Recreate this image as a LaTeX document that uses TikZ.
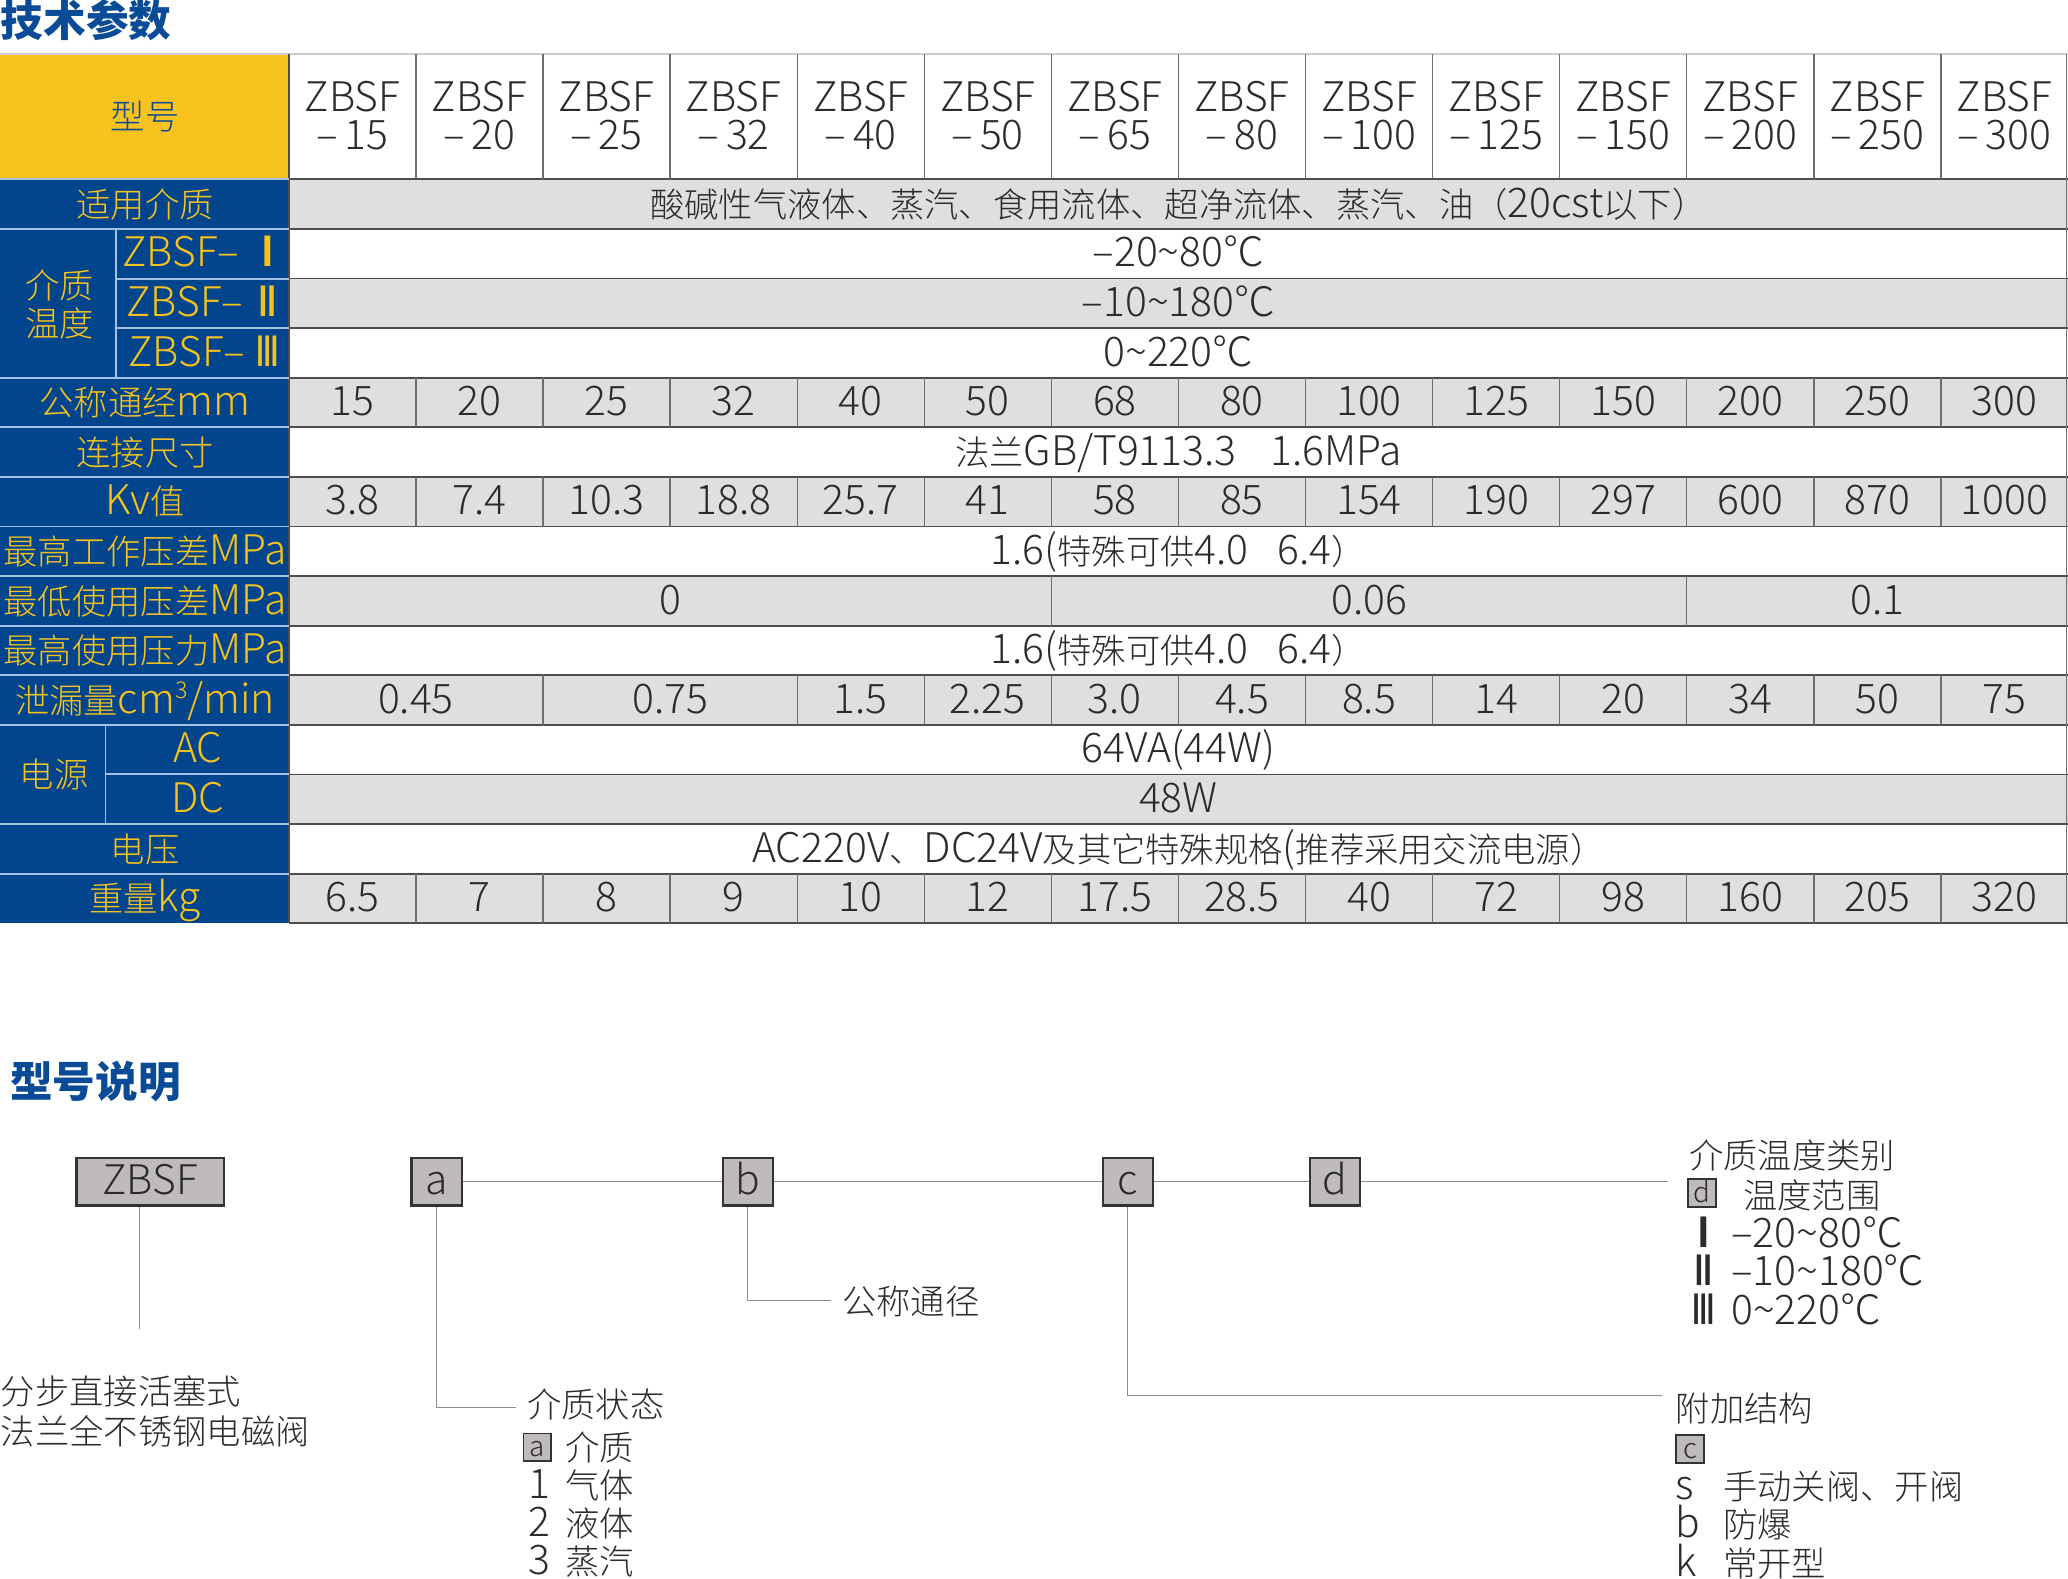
\documentclass[tikz,border=0pt]{standalone}
\usepackage{fontspec}
\usepackage{graphicx}
\IfFontExistsTF{Noto Sans CJK SC Light}
  {\setmainfont{Noto Sans CJK SC Light}}
  {\IfFontExistsTF{Noto Sans CJK SC DemiLight}
    {\setmainfont{Noto Sans CJK SC DemiLight}}
    {\setmainfont{Noto Sans CJK SC}}}
\newfontfamily\headface{Noto Sans CJK SC}
\usetikzlibrary{positioning}

\definecolor{hdyellow}{HTML}{F9C31F}
\definecolor{hdblue}{HTML}{02458D}
\definecolor{lbyellow}{HTML}{F6C31C}
\definecolor{rowgray}{HTML}{DFDFDE}
\definecolor{gridgray}{HTML}{4D4D4D}
\definecolor{vgray}{HTML}{6E6E6E}
\definecolor{sepblue}{HTML}{A4C0E2}
\definecolor{titleblue}{HTML}{0A4B97}
\definecolor{boxgray}{HTML}{BEBABE}
\definecolor{wiregray}{HTML}{8C8C8C}
\definecolor{ink}{HTML}{2B2B2B}

% han glyphs are set a bit smaller than the latin ones
\chardef\hanclass=7
\def\hanrange#1#2{\count255=#1
  \loop\XeTeXcharclass\count255=\hanclass
  \ifnum\count255<#2 \advance\count255 by 1 \repeat}
\hanrange{"3000}{"303F}
\hanrange{"4E00}{"9FFF}
\hanrange{"FF01}{"FF5D}
\def\latsz{8.8}
\def\hansz{7.4}
\newcommand\hanfont{\fontsize{\hansz}{\hansz}\selectfont}
\newcommand\latfont{\fontsize{\latsz}{\latsz}\selectfont}
\XeTeXinterchartoks 0 \hanclass = {\hanfont}
\XeTeXinterchartoks 4095 \hanclass = {\hanfont}
\XeTeXinterchartoks \hanclass 0 = {\latfont}
\XeTeXinterchartoks \hanclass 4095 = {\latfont}
\XeTeXinterchartokenstate=1

\def \tabx{219}
\def \tabtop{136}
\def \tabbot{700}
\def \colw{96.357}
\def \rowh{37.6}
\newcommand\colc[1]{\tabx+\colw*(#1+0.5)}
\newcommand\rowbase[1]{\tabtop+\rowh*(#1+0.5)+10}
\newcommand\cubed{\raisebox{1.15mm}{\fontsize{5}{5}\selectfont 3}}
% roman numerals drawn as narrow heavy bars
\newcommand\heavy[2][0.6]{\scalebox{#1}[1]{\headface\bfseries #2}}

\tikzset{
  val/.style={anchor=base, inner sep=0pt, text=ink, font=\latfont},
  lbl/.style={anchor=base, inner sep=0pt, text=lbyellow, font=\latfont},
  hline/.style={draw=gridgray, line width=0.14mm},
  vline/.style={draw=vgray, line width=0.1mm},
  sepline/.style={draw=sepblue, line width=0.15mm},
  wire/.style={draw=wiregray, line width=0.09mm},
  keybox/.style={draw=black!80, fill=boxgray, line width=0.16mm, minimum width=3.8mm,
    minimum height=3.6mm, inner sep=0pt, text height=2.0mm, text depth=0pt, text=ink, font=\latfont},
  tagbox/.style={draw=black!80, fill=boxgray, line width=0.13mm, minimum size=2.1mm,
    inner sep=0pt, text height=1.4mm, text depth=0pt, text=ink, font=\fontsize{6}{6}\selectfont},
  note/.style={anchor=base west, inner sep=0pt, text=ink, font=\latfont},
  heading/.style={anchor=base west, inner sep=0pt, text=titleblue,
    font={\def\hansz{9.2}\headface\bfseries\latfont}},
}

\begin{document}
\begin{tikzpicture}[x=0.1mm,y=-0.1mm]
\useasboundingbox (0,0) rectangle (1568,1196.5);
\node[heading] (techtitle) at (0,28) {技术参数};

% backgrounds
\fill[hdyellow] (0,41) rectangle (\tabx,\tabtop);
\fill[hdblue] (0,\tabtop) rectangle (\tabx,\tabbot);
\foreach \i in {0,2,...,14}
  \fill[rowgray] (\tabx,{\tabtop+\rowh*\i}) rectangle (1568,{\tabtop+\rowh*(\i+1)});

% grid
\draw[draw=black!20, line width=0.15mm] (0,41) -- (1568,41);
\foreach \i in {0,...,15}
  \draw[hline] (\tabx,{\tabtop+\rowh*\i}) -- (1568,{\tabtop+\rowh*\i});
\draw[hline] (\tabx,41) -- (\tabx,\tabbot);
\draw[vline] (1567,41) -- (1567,\tabbot);
\foreach \j in {1,...,13} {
  \draw[vline] ({\tabx+\colw*\j},41) -- ++(0,95);
  \foreach \i in {4,6,14}
    \draw[vline] ({\tabx+\colw*\j},{\tabtop+\rowh*\i}) -- ++(0,\rowh);
}
\foreach \j in {6,11}
  \draw[vline] ({\tabx+\colw*\j},{\tabtop+\rowh*8}) -- ++(0,\rowh);
\foreach \j in {2,4,5,6,7,8,9,10,11,12,13}
  \draw[vline] ({\tabx+\colw*\j},{\tabtop+\rowh*10}) -- ++(0,\rowh);

% label column rules
\foreach \i in {0,1,4,5,6,7,8,9,10,11,13,14}
  \draw[sepline] (0,{\tabtop+\rowh*\i}) -- (\tabx,{\tabtop+\rowh*\i});
\foreach \i in {2,3}
  \draw[sepline] (88,{\tabtop+\rowh*\i}) -- (\tabx,{\tabtop+\rowh*\i});
\draw[sepline] (88,{\tabtop+\rowh}) -- (88,{\tabtop+\rowh*4});
\draw[sepline] (80,{\tabtop+\rowh*12}) -- (\tabx,{\tabtop+\rowh*12});
\draw[sepline] (80,{\tabtop+\rowh*11}) -- (80,{\tabtop+\rowh*13});

% row labels
\node[lbl, text=titleblue] (modelhd) at (110,98) {型号};
\node[lbl] (lmedium) at (110,{\rowbase{0}}) {适用介质};
\node[lbl] (ltemp1) at (45,226) {介质};
\node[lbl] (ltemp2) at (45,255) {温度};
\node[lbl] (lt1) at (154,{\rowbase{1}}) {ZBSF–\hspace{0.9mm}\heavy[0.8]{Ⅰ}};
\node[lbl] (lt2) at (154,{\rowbase{2}}) {ZBSF–\hspace{0.9mm}\heavy{Ⅱ}};
\node[lbl] (lt3) at (154,{\rowbase{3}}) {ZBSF–\hspace{0.9mm}\heavy[0.5]{Ⅲ}};
\node[lbl] (ldn) at (110,{\rowbase{4}}) {公称通经mm};
\node[lbl] (lconn) at (110,{\rowbase{5}}) {连接尺寸};
\node[lbl] (lkv) at (110,{\rowbase{6}}) {Kv值};
\node[lbl] (lpmax) at (110,{\rowbase{7}}) {最高工作压差MPa};
\node[lbl] (lpmin) at (110,{\rowbase{8}}) {最低使用压差MPa};
\node[lbl] (lpuse) at (110,{\rowbase{9}}) {最高使用压力MPa};
\node[lbl] (lleak) at (110,{\rowbase{10}}) {泄漏量cm\cubed/min};
\node[lbl] (lpow) at (41,{\rowbase{11.5}}) {电源};
\node[lbl] (lac) at (150,{\rowbase{11}}) {AC};
\node[lbl] (ldc) at (150,{\rowbase{12}}) {DC};
\node[lbl] (lvolt) at (110,{\rowbase{13}}) {电压};
\node[lbl] (lwt) at (110,{\rowbase{14}}) {重量kg};

% values
\foreach \v [count=\j from 0] in {15,20,25,32,40,50,65,80,100,125,150,200,250,300} {
  \node[val] (mdl\j) at ({\colc{\j}},84.5) {ZBSF};
  \node[val] (mdn\j) at ({\colc{\j}},113) {–\,\v};
}
\node[val] (vmedium) at (893.5,{\rowbase{0}}) {酸碱性气液体、蒸汽、食用流体、超净流体、蒸汽、油（20cst以下）};
\node[val] (vt1) at (893.5,{\rowbase{1}}) {–20\textasciitilde80℃};
\node[val] (vt2) at (893.5,{\rowbase{2}}) {–10\textasciitilde180℃};
\node[val] (vt3) at (893.5,{\rowbase{3}}) {0\textasciitilde220℃};
\foreach \v [count=\j from 0] in {15,20,25,32,40,50,68,80,100,125,150,200,250,300}
  \node[val] (dn\j) at ({\colc{\j}},{\rowbase{4}}) {\v};
\node[val] (vconn) at (893.5,{\rowbase{5}}) {法兰GB/T9113.3\hspace{2.6mm}1.6MPa};
\foreach \v [count=\j from 0] in {3.8,7.4,10.3,18.8,25.7,41,58,85,154,190,297,600,870,1000}
  \node[val] (kv\j) at ({\colc{\j}},{\rowbase{6}}) {\v};
\node[val] (vpmax) at (893.5,{\rowbase{7}}) {1.6(特殊可供4.0\hspace{2.2mm}6.4）};
\node[val] (vpmin1) at ({\tabx+\colw*3},{\rowbase{8}}) {0};
\node[val] (vpmin2) at ({\tabx+\colw*8.5},{\rowbase{8}}) {0.06};
\node[val] (vpmin3) at ({\tabx+\colw*12.5},{\rowbase{8}}) {0.1};
\node[val] (vpuse) at (893.5,{\rowbase{9}}) {1.6(特殊可供4.0\hspace{2.2mm}6.4）};
\node[val] (lk0) at ({\tabx+\colw*1},{\rowbase{10}}) {0.45};
\node[val] (lk1) at ({\tabx+\colw*3},{\rowbase{10}}) {0.75};
\foreach \v [count=\j from 4] in {1.5,2.25,3.0,4.5,8.5,14,20,34,50,75}
  \node[val] (lk\j) at ({\colc{\j}},{\rowbase{10}}) {\v};
\node[val] (vac) at (893.5,{\rowbase{11}}) {64VA(44W)};
\node[val] (vdc) at (893.5,{\rowbase{12}}) {48W};
\node[val] (vvolt) at (893.5,{\rowbase{13}}) {AC220V、DC24V及其它特殊规格(推荐采用交流电源）};
\foreach \v [count=\j from 0] in {6.5,7,8,9,10,12,17.5,28.5,40,72,98,160,205,320}
  \node[val] (wt\j) at ({\colc{\j}},{\rowbase{14}}) {\v};

% model code
\node[heading] (codetitle) at (7,832) {型号说明};
\node[keybox, minimum width=11.2mm] (kz) at (114,896) {ZBSF};
\node[keybox] (ka) at (331,896) {a};
\node[keybox] (kb) at (567,896) {b};
\node[keybox] (kc) at (855,896) {c};
\node[keybox] (kd) at (1012,896) {d};

\coordinate (zend) at (106,1008);
\coordinate (aend) at (391,1067);
\coordinate (bend) at (630,986);
\coordinate (cend) at (1260,1058);
\coordinate (dend) at (1265,896);
\draw[wire] (zend |- kz.south) -- (zend);
\draw[wire] (ka.east) -- (kb.west);
\draw[wire] (kb.east) -- (kc.west);
\draw[wire] (kc.east) -- (kd.west);
\draw[wire] (kd.east) -- (dend);
\draw[wire] (ka.south) |- (aend);
\draw[wire] (kb.south) |- (bend);
\draw[wire] (kc.south) |- (cend);

\node[note] (zdesc1) at (0,1065) {分步直接活塞式};
\node[note] (zdesc2) at (0,1095) {法兰全不锈钢电磁阀};

\node[note] (ahead) at (399,1075) {介质状态};
\node[tagbox] (atag) at (407.5,1097.5) {a};
\node[note] (akey) at (428,1107) {介质};
\node[note] (a1) at (400,1136) {\makebox[2.8mm][l]{1}气体};
\node[note] (a2) at (400,1165) {\makebox[2.8mm][l]{2}液体};
\node[note] (a3) at (400,1194) {\makebox[2.8mm][l]{3}蒸汽};

\node[note] (blbl) at (638,997) {公称通径};

\node[note] (chead) at (1270,1078) {附加结构};
\node[tagbox] (ctag) at (1281.5,1098.5) {c};
\node[note] (c1) at (1270,1137) {\makebox[3.6mm][l]{s}手动关阀、开阀};
\node[note] (c2) at (1270,1166) {\makebox[3.6mm][l]{b}防爆};
\node[note] (c3) at (1270,1195) {\makebox[3.6mm][l]{k}常开型};

\node[note] (dhead) at (1280,886) {介质温度类别};
\node[tagbox] (dtag) at (1290.5,904.5) {d};
\node[note] (dkey) at (1321,916) {温度范围};
\node[note] (d1) at (1283,946) {\makebox[2.9mm][l]{\makebox[1.6mm]{\heavy[0.8]{Ⅰ}}}–20\textasciitilde80℃};
\node[note] (d2) at (1283,975) {\makebox[2.9mm][l]{\makebox[1.6mm]{\heavy{Ⅱ}}}–10\textasciitilde180℃};
\node[note] (d3) at (1283,1004) {\makebox[2.9mm][l]{\makebox[1.6mm]{\heavy[0.5]{Ⅲ}}}0\textasciitilde220℃};
\end{tikzpicture}
\end{document}
